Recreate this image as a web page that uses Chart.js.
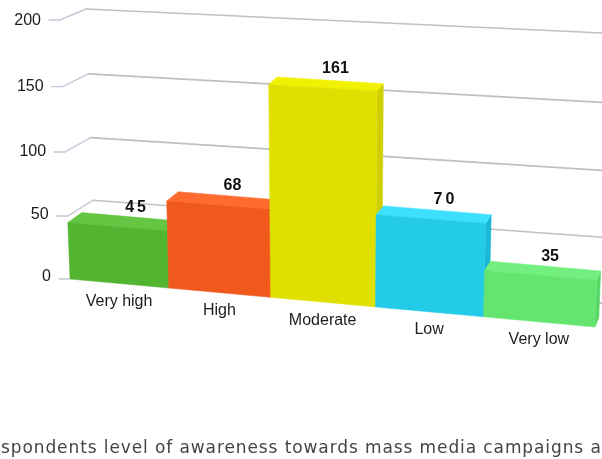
<!DOCTYPE html>
<html><head><meta charset="utf-8">
<style>html,body{margin:0;padding:0;background:#fff;overflow:hidden}canvas{display:block}</style>
<script src="https://cdn.jsdelivr.net/npm/chart.js@4"></script>
</head><body><canvas id="c" width="602" height="459"></canvas>
<script>
const categories = ["Very high","High","Moderate","Low","Very low"];
const values = [45,68,161,70,35];
const yTicks = [0,50,100,150,200];
const titleText = "spondents level of awareness towards mass media campaigns a";
const fronts = ["#53B432","#F0591B","#DFE000","#24CBE8","#63E570"];
const tops   = ["#64C642","#FF6B2E","#F0F000","#3DDFFF","#73EF80"];
const sides  = ["#469C2A","#D04C16","#CFCF00","#1AB8D6","#55D665"];

// square -> quad projective map (u,v in 0..1; v up)
function quad(p00,p10,p11,p01){
  const [x0,y0]=p00,[x1,y1]=p10,[x2,y2]=p11,[x3,y3]=p01;
  const dx1=x1-x2,dx2=x3-x2,sx=x0-x1+x2-x3,dy1=y1-y2,dy2=y3-y2,sy=y0-y1+y2-y3;
  const d=dx1*dy2-dx2*dy1,g=(sx*dy2-dx2*sy)/d,h=(dx1*sy-sx*dy1)/d;
  const a=x1-x0+g*x1,b=x3-x0+h*x3,e=y1-y0+g*y1,f=y3-y0+h*y3;
  return (u,v)=>{const w=g*u+h*v+1;return [(a*u+b*v+x0)/w,(e*u+f*v+y0)/w];};
}
const front = quad([70,279],[595,327],[606,49],[60,20]);
const back  = quad([95,262],[613,304],[622,34],[86,9]);
const depth = (u,v) => [(15-11*u)*(1-0.3*v), (-10.5+1*u)*(1-0.3*v)];

const view3d = {
  id:'view3d',
  beforeDatasetsDraw(chart){
    const {ctx,chartArea:a,scales:{y}}=chart;
    ctx.save();ctx.lineCap='round';ctx.lineJoin='round';
    ctx.font='16px "Liberation Sans"';ctx.textAlign='right';ctx.textBaseline='middle';
    y.ticks.forEach(t=>{
      const v=(a.bottom-y.getPixelForValue(t.value))/a.height;
      const p=front(0,v),q=back(0,v),r=back(1,v);
      ctx.lineWidth=1.4;ctx.strokeStyle='#C2CAD8';
      ctx.beginPath();ctx.moveTo(p[0]-11,p[1]);ctx.lineTo(p[0],p[1]);ctx.lineTo(q[0],q[1]);ctx.stroke();
      ctx.lineWidth=1.6;ctx.strokeStyle='#C0C0C0';
      ctx.beginPath();ctx.moveTo(q[0],q[1]);ctx.lineTo(r[0],r[1]);ctx.stroke();
      ctx.fillStyle='#1c1c1c';ctx.fillText(String(t.value),p[0]-19,p[1]-2+3*v);
    });
    ctx.restore();
  },
  beforeDatasetDraw(chart,args){
    const {ctx,chartArea:a}=chart;
    const meta=args.meta;
    const U=x=>(x-a.left)/a.width,V=y=>(a.bottom-y)/a.height;
    const poly=(pts,c)=>{ctx.fillStyle=c;ctx.strokeStyle=c;ctx.lineWidth=.5;ctx.beginPath();pts.forEach((p,i)=>i?ctx.lineTo(p[0],p[1]):ctx.moveTo(p[0],p[1]));ctx.closePath();ctx.fill();ctx.stroke();};
    const off=(p,u,v)=>{const d=depth(u,v);return [p[0]+d[0],p[1]+d[1]];};
    meta.data.forEach((el,i)=>{
      const {x,y,base,width}=el.getProps(['x','y','base','width'],true);
      const u0=U(x-width/2),u1=U(x+width/2),v=V(y),v0=V(base);
      const bl=front(u0,v0),br=front(u1,v0),tr=front(u1,v),tl=front(u0,v);
      poly([br,tr,off(tr,u1,v),off(br,u1,v)],sides[i]);
      poly([tl,tr,off(tr,u1,v),off(tl,u0,v)],tops[i]);
      poly([bl,br,tr,tl],fronts[i]);
    });
    ctx.save();
    const labelGap=[3,0,0,3,0];
    meta.data.forEach((el,i)=>{
      const {x,y}=el.getProps(['x','y'],true);
      const u=U(x),t=front(u,V(y)),b=front(u,0);
      ctx.font='bold 16px "Liberation Sans"';ctx.fillStyle='#111';ctx.textAlign='center';ctx.textBaseline='middle';
      ctx.letterSpacing=labelGap[i]+'px';
      ctx.fillText(String(values[i]),t[0]+17-8*u+labelGap[i]*1.2,t[1]-19);
      ctx.letterSpacing='0px';
      ctx.font='16px "Liberation Sans"';ctx.fillStyle='#1c1c1c';
      ctx.fillText(categories[i],b[0],b[1]+18);
    });
    ctx.font='17px "DejaVu Sans"';ctx.fillStyle='#444';ctx.textAlign='left';ctx.textBaseline='middle';
    ctx.letterSpacing='0.9px';
    ctx.fillText(titleText,1,449);
    ctx.restore();
    return false;
  }
};
new Chart(document.getElementById('c'),{
  type:'bar',
  data:{labels:categories,datasets:[{data:values,backgroundColor:fronts,categoryPercentage:1,barPercentage:1}]},
  options:{responsive:false,animation:false,devicePixelRatio:1,
    layout:{padding:{left:70,right:7,top:20,bottom:183}},
    plugins:{legend:{display:false},tooltip:{enabled:false},title:{display:false}},
    scales:{
      x:{grid:{display:false},border:{display:false},ticks:{display:false}},
      y:{min:0,max:200,grid:{display:false},border:{display:false},afterBuildTicks(s){s.ticks=yTicks.map(value=>({value}));},ticks:{display:false}}
    }},
  plugins:[view3d]
});
</script></body></html>
